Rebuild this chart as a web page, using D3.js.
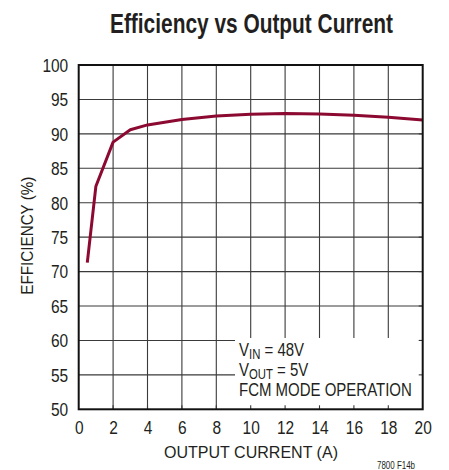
<!DOCTYPE html>
<html>
<head>
<meta charset="utf-8">
<script src="https://cdn.jsdelivr.net/npm/d3@7"></script>
<style>
  html, body { margin: 0; padding: 0; background: #fff; }
  svg text { font-family: "Liberation Sans", Arial, Helvetica, sans-serif; fill: #231f20; }
</style>
</head>
<body>
<svg id="chart" width="449" height="470"></svg>
<script>
// Efficiency vs output current, VIN = 48V, VOUT = 5V, FCM mode
const currentA = [0.5, 1, 2, 3, 4, 6, 8, 10, 12, 14, 16, 18, 20];
const efficiencyPct = [71.3, 82.4, 88.8, 90.6, 91.3, 92.1, 92.6, 92.85, 92.95, 92.9, 92.7, 92.4, 92.0];
const xTicks = [0, 2, 4, 6, 8, 10, 12, 14, 16, 18, 20];
const yTicks = [50, 55, 60, 65, 70, 75, 80, 85, 90, 95, 100];

const svg = d3.select("#chart");
const plot = { left: 78.7, right: 422.7, top: 65, bottom: 409.3 };
const digitW = 8.6; // narrow numeral width for tick labels

const x = d3.scaleLinear().domain([0, 20]).range([plot.left, plot.right]);
const y = d3.scaleLinear().domain([50, 100]).range([plot.bottom, plot.top]);

// Title
svg.append("text")
  .attr("x", 251.5).attr("y", 33)
  .attr("text-anchor", "middle")
  .attr("font-size", 27).attr("font-weight", "bold")
  .attr("textLength", 283).attr("lengthAdjust", "spacingAndGlyphs")
  .text("Efficiency vs Output Current");

// Grid
const grid = svg.append("g").attr("stroke", "#3a3a3a").attr("stroke-width", 1.1);
xTicks.slice(1, -1).forEach(t => {
  grid.append("line").attr("x1", x(t)).attr("x2", x(t)).attr("y1", plot.top).attr("y2", plot.bottom);
});
yTicks.slice(1, -1).forEach(t => {
  grid.append("line").attr("x1", plot.left).attr("x2", plot.right).attr("y1", y(t)).attr("y2", y(t));
});

// Curve
svg.append("path")
  .datum(currentA.map((c, i) => [c, efficiencyPct[i]]))
  .attr("fill", "none")
  .attr("stroke", "#8c0a32")
  .attr("stroke-width", 3)
  .attr("stroke-linejoin", "round")
  .attr("d", d3.line().x(d => x(d[0])).y(d => y(d[1])));

// Annotation box covering the grid in the lower-right corner
svg.append("rect")
  .attr("x", 235).attr("y", 338)
  .attr("width", plot.right - 235).attr("height", plot.bottom - 338)
  .attr("fill", "#fff");

// Inward tick stubs on the bottom and right edges
const stubs = svg.append("g").attr("stroke", "#3a3a3a").attr("stroke-width", 1.1);
xTicks.slice(1, -1).forEach(t => {
  stubs.append("line").attr("x1", x(t)).attr("x2", x(t)).attr("y1", plot.bottom).attr("y2", plot.bottom - 4);
});
yTicks.slice(1, -1).forEach(t => {
  stubs.append("line").attr("x1", plot.right).attr("x2", plot.right - 4).attr("y1", y(t)).attr("y2", y(t));
});

// Frame
svg.append("rect")
  .attr("x", plot.left).attr("y", plot.top)
  .attr("width", plot.right - plot.left).attr("height", plot.bottom - plot.top)
  .attr("fill", "none").attr("stroke", "#111").attr("stroke-width", 2);

// Tick labels via d3 axes
const xAxis = svg.append("g")
  .attr("transform", `translate(0,${plot.bottom})`)
  .call(d3.axisBottom(x).tickValues(xTicks).tickSize(0).tickPadding(0));
xAxis.attr("font-family", null).attr("font-size", null);
xAxis.select(".domain").remove();
xAxis.selectAll("text")
  .attr("font-size", 17.5).attr("dy", null).attr("y", 25)
  .attr("fill", "#231f20")
  .attr("textLength", d => String(d).length * digitW)
  .attr("lengthAdjust", "spacingAndGlyphs");

const yAxis = svg.append("g")
  .attr("transform", `translate(${plot.left},0)`)
  .call(d3.axisLeft(y).tickValues(yTicks).tickSize(0).tickPadding(0));
yAxis.attr("font-family", null).attr("font-size", null);
yAxis.select(".domain").remove();
yAxis.selectAll("text")
  .attr("font-size", 17.5).attr("x", -10.5).attr("dy", "0.36em")
  .attr("fill", "#231f20")
  .attr("textLength", d => String(d).length * digitW)
  .attr("lengthAdjust", "spacingAndGlyphs");

// Axis titles
svg.append("text")
  .attr("x", 251).attr("y", 458)
  .attr("text-anchor", "middle").attr("font-size", 16.5)
  .attr("textLength", 174).attr("lengthAdjust", "spacingAndGlyphs")
  .text("OUTPUT CURRENT (A)");

svg.append("text")
  .attr("transform", `translate(32.5,${(plot.top + plot.bottom) / 2 - 1.5}) rotate(-90)`)
  .attr("text-anchor", "middle").attr("font-size", 16)
  .attr("textLength", 118).attr("lengthAdjust", "spacingAndGlyphs")
  .text("EFFICIENCY (%)");

// Operating conditions
const note = svg.append("g")
  .attr("transform", "translate(239,0) scale(0.81,1)")
  .attr("font-size", 18.5);
const vin = note.append("text").attr("x", 0).attr("y", 356.5);
vin.append("tspan").text("V");
vin.append("tspan").attr("font-size", 14).attr("dy", 3).text("IN");
vin.append("tspan").attr("dy", -3).text(" = 48V");
const vout = note.append("text").attr("x", 0).attr("y", 376.5);
vout.append("tspan").text("V");
vout.append("tspan").attr("font-size", 14).attr("dy", 3).text("OUT");
vout.append("tspan").attr("dy", -3).text(" = 5V");
note.append("text").attr("x", 0).attr("y", 396.5).text("FCM MODE OPERATION");

// Figure code
svg.append("text")
  .attr("x", 377).attr("y", 469)
  .attr("font-size", 10)
  .attr("textLength", 38).attr("lengthAdjust", "spacingAndGlyphs")
  .text("7800 F14b");
</script>
</body>
</html>
